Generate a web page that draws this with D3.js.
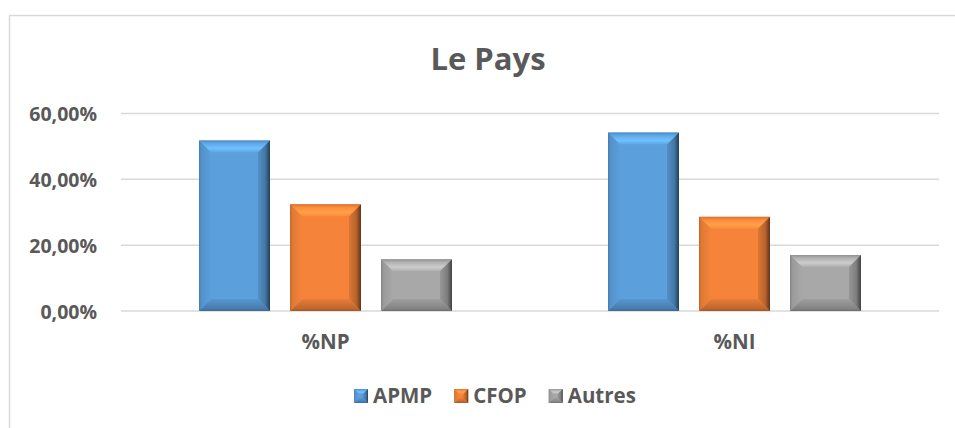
<!DOCTYPE html>
<html>
<head>
<meta charset="utf-8">
<script src="https://cdn.jsdelivr.net/npm/d3@7"></script>
<style>
  body { margin: 0; background: #fff; }
  text { font-family: "Open Sans", Lato, sans-serif; font-weight: bold; fill: #595959; }
</style>
</head>
<body>
<script>
// Data
var categories = ["%NP", "%NI"];
var series = ["APMP", "CFOP", "Autres"];
var apmp = [0.518, 0.542];
var cfop = [0.324, 0.286];
var autres = [0.157, 0.170];
var yTicks = [0, 0.2, 0.4, 0.6];
var colors = ["#5B9FDD", "#F5843A", "#A8A8A8"];

var values = [apmp, cfop, autres];

var W = 955, H = 428;
var plot = {left: 121, right: 939, top: 113.5, bottom: 311};

var svg = d3.select("body").append("svg")
    .attr("width", W)
    .attr("height", H);

// chart frame
svg.append("rect")
    .attr("x", 9.5).attr("y", 15.5)
    .attr("width", 980).attr("height", 440)
    .style("fill", "#fff")
    .style("stroke", "#d9d9d9")
    .style("stroke-width", 1.5);

// Set the ranges
var y = d3.scaleLinear().domain([0, 0.6]).range([plot.bottom, plot.top]);
var x0 = d3.scaleBand().domain(categories).range([plot.left, plot.right]);
var x1 = d3.scaleBand().domain(series).range([0, 253]).paddingInner(20 / 91);

// gridlines
svg.append("g").selectAll("line")
    .data(yTicks)
    .enter().append("line")
    .attr("x1", plot.left).attr("x2", plot.right)
    .attr("y1", function(d) { return y(d); })
    .attr("y2", function(d) { return y(d); })
    .style("stroke", "#d9d9d9")
    .style("stroke-width", 1.5);

// y axis labels
var fmt = function(d) { return d3.format(".2f")(d * 100).replace(".", ",") + "%"; };
var yAxis = d3.axisLeft(y).tickValues(yTicks).tickFormat(fmt).tickSize(0).tickPadding(0);
var yg = svg.append("g")
    .attr("transform", "translate(97,0)")
    .call(yAxis);
yg.select(".domain").remove();
yg.selectAll("text")
    .attr("dy", "0.36em")
    .style("font-size", "19.5px")
    .style("font-family", "'Open Sans', sans-serif")
    .style("fill", "#595959");

// x axis labels
var xAxis = d3.axisBottom(x0).tickSize(0).tickPadding(0);
var xg = svg.append("g")
    .attr("transform", "translate(0,349)")
    .call(xAxis);
xg.select(".domain").remove();
xg.selectAll("text")
    .attr("dy", 0)
    .style("font-size", "20.5px")
    .style("font-family", "'Open Sans', sans-serif")
    .style("fill", "#595959");

// title
svg.append("text")
    .attr("x", 488)
    .attr("y", 70)
    .style("text-anchor", "middle")
    .style("font-size", "31px")
    .text("Le Pays");

// gradients for the bevel look
var defs = svg.append("defs");
function grad(id, x1_, y1_, x2_, y2_, stops) {
    var g = defs.append("linearGradient").attr("id", id)
        .attr("x1", x1_).attr("y1", y1_).attr("x2", x2_).attr("y2", y2_);
    stops.forEach(function(s) {
        g.append("stop").attr("offset", s[0]).attr("stop-color", s[1]);
    });
}
colors.forEach(function(c, i) {
    var base = d3.color(c);
    grad("top" + i, 0, 1, 0, 0, [[0, base.brighter(0.1)], [0.35, base.brighter(0.55)], [0.75, base.brighter(0.15)], [1, base.darker(0.4)]]);
    grad("bot" + i, 0, 0, 0, 1, [[0, base.darker(0.15)], [0.8, base.darker(0.7)], [1, base.darker(1.2)]]);
    grad("lft" + i, 1, 0, 0, 0, [[0, base], [0.8, base.darker(0.25)], [1, base.darker(0.7)]]);
    grad("rgt" + i, 0, 0, 1, 0, [[0, base.darker(0.3)], [0.6, base.darker(0.8)], [1, base.darker(2.6)]]);
});

function bevelBox(g, bx, by, w, h, b, i) {
    var base = colors[i];
    g.append("rect").attr("x", bx).attr("y", by).attr("width", w).attr("height", h)
        .style("fill", base);
    var pts = function(a) { return a.map(function(p) { return p.join(","); }).join(" "); };
    g.append("polygon").attr("points", pts([[bx, by], [bx + w, by], [bx + w - b, by + b], [bx + b, by + b]]))
        .style("fill", "url(#top" + i + ")");
    g.append("polygon").attr("points", pts([[bx, by + h], [bx + w, by + h], [bx + w - b, by + h - b], [bx + b, by + h - b]]))
        .style("fill", "url(#bot" + i + ")");
    g.append("polygon").attr("points", pts([[bx, by], [bx + b, by + b], [bx + b, by + h - b], [bx, by + h]]))
        .style("fill", "url(#lft" + i + ")");
    g.append("polygon").attr("points", pts([[bx + w, by], [bx + w - b, by + b], [bx + w - b, by + h - b], [bx + w, by + h]]))
        .style("fill", "url(#rgt" + i + ")");
}

// bars
var groupOffset = (x0.bandwidth() - 253) / 2;
var bars = svg.append("g");
categories.forEach(function(cat, ci) {
    series.forEach(function(s, si) {
        var v = values[si][ci];
        var bx = x0(cat) + groupOffset + x1(s);
        bevelBox(bars, bx, y(v), x1.bandwidth(), y(0) - y(v), 12, si);
    });
});

// legend
var legend = svg.append("g");
var lx = 354;
series.forEach(function(s, i) {
    var item = legend.append("g").attr("transform", "translate(" + lx + ",0)");
    bevelBox(item, 0, 389, 14, 14, 5, i);
    var t = item.append("text")
        .attr("x", 19).attr("y", 403)
        .style("font-size", "20.5px")
        .text(s);
    lx += 19 + t.node().getComputedTextLength() + 22;
});
</script>
</body>
</html>
